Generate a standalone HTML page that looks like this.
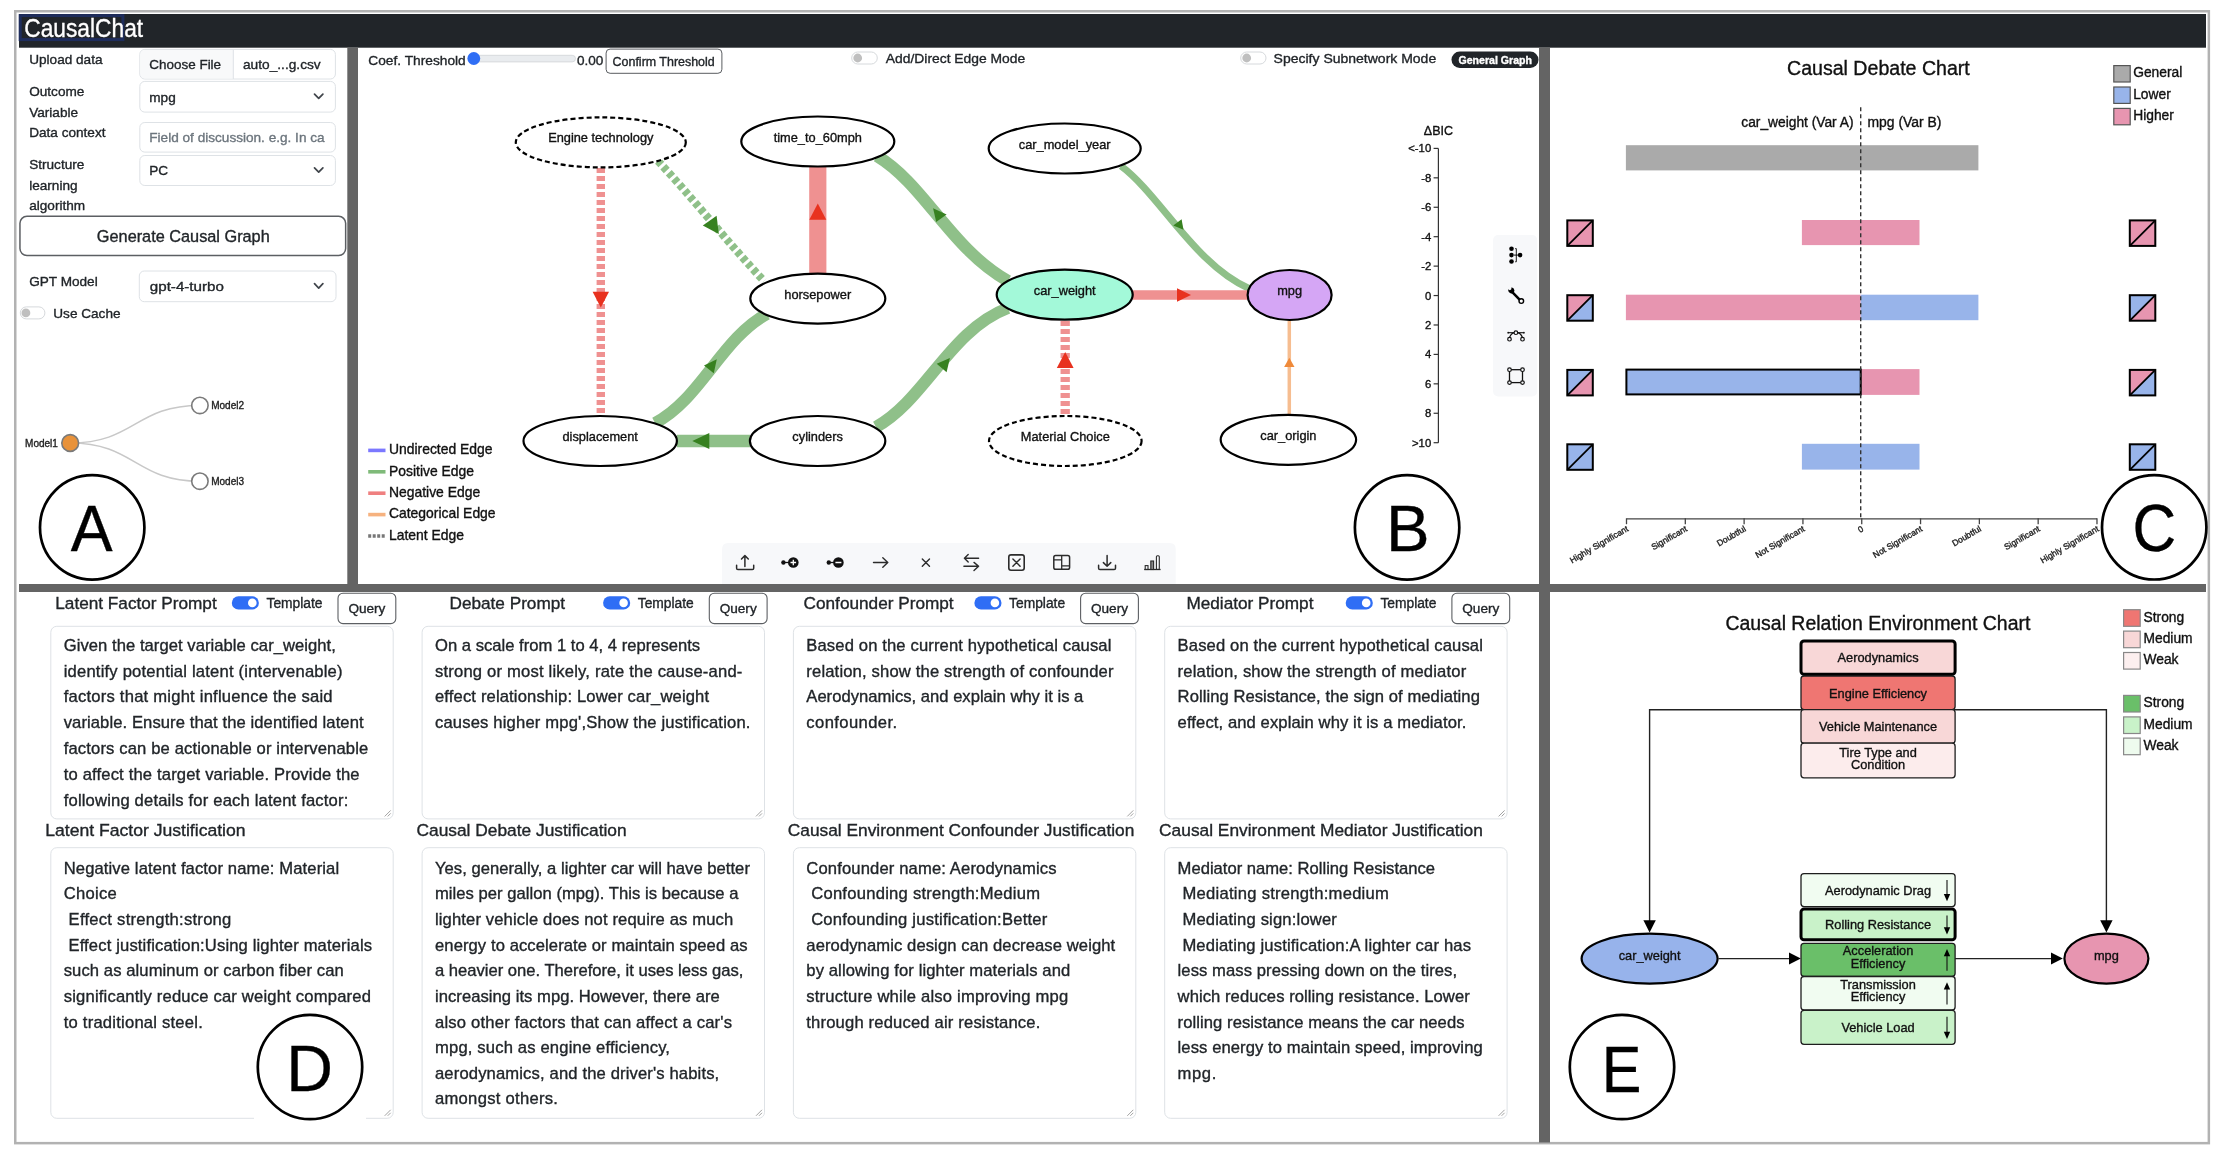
<!DOCTYPE html>
<html><head><meta charset="utf-8"><title>CausalChat</title>
<style>
html,body{margin:0;padding:0;background:#fff;}
body{width:2226px;height:1158px;overflow:hidden;}
svg{display:block;font-family:"Liberation Sans", sans-serif;will-change:transform;}
svg text{stroke-width:0.35px;}
</style></head>
<body>
<svg width="2226" height="1158" viewBox="0 0 2226 1158">
<rect x="15.25" y="11.25" width="2193.60" height="1131.90" fill="#fff" stroke="#b2b2b2" stroke-width="2.5"/>
<rect x="19.00" y="14.00" width="2187.00" height="33.70" fill="#212529"/>
<rect x="20.20" y="15.60" width="102.70" height="24.00" fill="none" stroke="#1e2d5c" stroke-width="3"/>
<text x="24.30" y="37.00" font-size="25" fill="#fff" stroke="#fff" textLength="118.80" lengthAdjust="spacingAndGlyphs">CausalChat</text>
<rect x="347.30" y="47.70" width="10.70" height="536.80" fill="#646464"/>
<rect x="1539.00" y="47.70" width="11.00" height="536.80" fill="#646464"/>
<rect x="19.00" y="584.00" width="2187.00" height="8.00" fill="#646464"/>
<rect x="1539.00" y="592.00" width="11.00" height="550.50" fill="#646464"/>
<text x="29.20" y="63.70" font-size="13.6" fill="#212529" stroke="#212529">Upload data</text>
<text x="29.20" y="96.30" font-size="13.6" fill="#212529" stroke="#212529">Outcome</text>
<text x="29.20" y="116.50" font-size="13.6" fill="#212529" stroke="#212529">Variable</text>
<text x="29.20" y="136.70" font-size="13.6" fill="#212529" stroke="#212529">Data context</text>
<text x="29.20" y="169.40" font-size="13.6" fill="#212529" stroke="#212529">Structure</text>
<text x="29.20" y="189.60" font-size="13.6" fill="#212529" stroke="#212529">learning</text>
<text x="29.20" y="209.80" font-size="13.6" fill="#212529" stroke="#212529">algorithm</text>
<text x="29.20" y="285.60" font-size="13.6" fill="#212529" stroke="#212529">GPT Model</text>
<rect x="139.80" y="49.40" width="195.60" height="29.60" fill="#fff" stroke="#dee2e6" stroke-width="1" rx="5"/>
<path d="M144.80 49.9 H233.3 V78.5 H144.80 A5 5 0 0 1 140.30 73.5 V54.9 A5 5 0 0 1 144.80 49.9 Z" fill="#f8f9fa"/>
<line x1="233.30" y1="49.40" x2="233.30" y2="79.00" stroke="#dee2e6" stroke-width="1" />
<text x="149.30" y="69.10" font-size="13.6" fill="#212529" stroke="#212529" textLength="71.80" lengthAdjust="spacingAndGlyphs">Choose File</text>
<text x="243.00" y="69.10" font-size="13.6" fill="#212529" stroke="#212529" textLength="77.70" lengthAdjust="spacingAndGlyphs">auto_...g.csv</text>
<rect x="139.80" y="81.40" width="195.60" height="30.70" fill="#fff" stroke="#dee2e6" stroke-width="1" rx="5"/>
<text x="149.30" y="101.55" font-size="13.6" fill="#212529" stroke="#212529">mpg</text>
<path d="M314.50 94.05 L318.70 98.45 L322.90 94.05" fill="none" stroke="#40454b" stroke-width="1.7" stroke-linecap="round" stroke-linejoin="round"/>
<rect x="139.80" y="122.50" width="195.60" height="29.60" fill="#fff" stroke="#dee2e6" stroke-width="1" rx="5"/>
<text x="149.30" y="142.10" font-size="13.6" fill="#6c757d" stroke="#6c757d">Field of discussion. e.g. In ca</text>
<rect x="139.80" y="155.50" width="195.60" height="30.00" fill="#fff" stroke="#dee2e6" stroke-width="1" rx="5"/>
<text x="149.30" y="175.30" font-size="13.6" fill="#212529" stroke="#212529">PC</text>
<path d="M314.50 167.80 L318.70 172.20 L322.90 167.80" fill="none" stroke="#40454b" stroke-width="1.7" stroke-linecap="round" stroke-linejoin="round"/>
<rect x="19.95" y="216.35" width="325.70" height="39.20" fill="#fff" stroke="#5c5f63" stroke-width="1.5" rx="7"/>
<text x="183.30" y="241.90" font-size="16.3" fill="#212529" stroke="#212529" text-anchor="middle">Generate Causal Graph</text>
<rect x="139.30" y="271.00" width="196.70" height="30.70" fill="#fff" stroke="#dee2e6" stroke-width="1" rx="5"/>
<text x="149.80" y="290.80" font-size="13.6" fill="#212529" stroke="#212529" textLength="74.10" lengthAdjust="spacingAndGlyphs">gpt-4-turbo</text>
<path d="M314.50 283.70 L318.70 288.10 L322.90 283.70" fill="none" stroke="#40454b" stroke-width="1.7" stroke-linecap="round" stroke-linejoin="round"/>
<rect x="20.30" y="306.90" width="24.60" height="12.00" fill="#fff" stroke="#d6d9dc" stroke-width="1" rx="6"/>
<circle cx="25.90" cy="312.90" r="4.40" fill="#bfbfbf"/>
<text x="53.30" y="317.50" font-size="13.6" fill="#212529" stroke="#212529">Use Cache</text>
<path d="M70.2 443 C135.1 443 135.1 405.4 199.9 405.4" fill="none" stroke="#c8c8c8" stroke-width="1.5"/>
<path d="M70.2 443 C135.1 443 135.1 481.2 199.9 481.2" fill="none" stroke="#c8c8c8" stroke-width="1.5"/>
<circle cx="70.20" cy="443.00" r="8.40" fill="#e8923a" stroke="#7a7a7a" stroke-width="1.6"/>
<circle cx="199.90" cy="405.40" r="8.20" fill="#fff" stroke="#7a7a7a" stroke-width="1.6"/>
<circle cx="199.90" cy="481.20" r="8.20" fill="#fff" stroke="#7a7a7a" stroke-width="1.6"/>
<text x="57.90" y="446.90" font-size="10" fill="#222" stroke="#222" text-anchor="end">Model1</text>
<text x="211.20" y="408.80" font-size="10" fill="#222" stroke="#222">Model2</text>
<text x="211.20" y="484.60" font-size="10" fill="#222" stroke="#222">Model3</text>
<circle cx="92.20" cy="527.40" r="52.20" fill="#fff" stroke="#000" stroke-width="2.7"/>
<text x="0" y="0" font-size="65.41" fill="#000" stroke="#000" transform="translate(70.87 551.40) scale(0.959 1)">A</text>
<text x="368.30" y="64.80" font-size="13.7" fill="#212529" stroke="#212529" textLength="97.40" lengthAdjust="spacingAndGlyphs">Coef. Threshold</text>
<rect x="473.50" y="55.30" width="102.00" height="6.60" fill="#e9ecef" stroke="#d0d3d6" stroke-width="0.8" rx="3.3"/>
<circle cx="473.80" cy="58.50" r="6.40" fill="#2f6ef5"/>
<text x="576.90" y="64.80" font-size="13.7" fill="#212529" stroke="#212529" textLength="26.40" lengthAdjust="spacingAndGlyphs">0.00</text>
<rect x="606.10" y="49.10" width="115.80" height="24.20" fill="#fff" stroke="#595c60" stroke-width="1" rx="4"/>
<text x="612.60" y="66.40" font-size="12.4" fill="#212529" stroke="#212529" textLength="102.10" lengthAdjust="spacingAndGlyphs">Confirm Threshold</text>
<rect x="851.70" y="52.00" width="25.60" height="12.00" fill="#fff" stroke="#d6d9dc" stroke-width="1" rx="6.0"/>
<circle cx="857.70" cy="58.00" r="4.40" fill="#bfbfbf"/>
<text x="885.80" y="63.30" font-size="13.7" fill="#212529" stroke="#212529" textLength="139.40" lengthAdjust="spacingAndGlyphs">Add/Direct Edge Mode</text>
<rect x="1240.70" y="52.00" width="25.30" height="12.00" fill="#fff" stroke="#d6d9dc" stroke-width="1" rx="6.0"/>
<circle cx="1246.70" cy="58.00" r="4.40" fill="#bfbfbf"/>
<text x="1273.60" y="63.40" font-size="13.7" fill="#212529" stroke="#212529" textLength="162.60" lengthAdjust="spacingAndGlyphs">Specify Subnetwork Mode</text>
<rect x="1451.50" y="51.50" width="87.00" height="16.50" fill="#212529" rx="8.25"/>
<text x="1458.50" y="63.60" font-size="10.6" fill="#fff" stroke="#fff" font-weight="bold" textLength="73.50" lengthAdjust="spacingAndGlyphs">General Graph</text>
<line x1="600.80" y1="168.00" x2="600.80" y2="415.00" stroke="#ef9191" stroke-width="8.4" stroke-dasharray="5 3"/>
<polygon points="600.80,307.60 592.60,291.70 609.00,291.70" fill="#e8321f"/>
<path d="M658 161 C690 195 730 245 764 281" fill="none" stroke="#8fc089" stroke-width="8" stroke-dasharray="5 3"/>
<polygon points="716.60,215.70 702.80,225.60 718.80,234.00" fill="#378120"/>
<line x1="817.80" y1="167.00" x2="817.80" y2="273.00" stroke="#ef9191" stroke-width="17.2" />
<polygon points="817.80,203.40 826.30,219.80 809.30,219.80" fill="#e8321f"/>
<path d="M877 156 C925 185 950 248 1008 281" fill="none" stroke="#8fc089" stroke-width="12"/>
<polygon points="933.10,208.30 946.60,214.50 936.20,222.00" fill="#378120"/>
<path d="M1121 166 C1160 195 1195 265 1250 289" fill="none" stroke="#8fc089" stroke-width="7"/>
<polygon points="1181.60,219.20 1173.30,225.60 1183.50,229.70" fill="#378120"/>
<line x1="1133.00" y1="295.00" x2="1247.00" y2="295.00" stroke="#ef9191" stroke-width="9.5" />
<polygon points="1191.00,295.00 1177.00,301.80 1177.00,288.20" fill="#e8321f"/>
<path d="M767 314 C722 338 700 400 655 423" fill="none" stroke="#8fc089" stroke-width="12"/>
<polygon points="704.00,365.60 716.80,359.30 713.80,373.20" fill="#378120"/>
<line x1="677.00" y1="441.00" x2="750.00" y2="441.00" stroke="#8fc089" stroke-width="12.6" />
<polygon points="692.30,441.00 709.30,433.00 709.30,449.00" fill="#378120"/>
<path d="M876 427 C925 400 950 330 1008 308" fill="none" stroke="#8fc089" stroke-width="12"/>
<polygon points="936.70,363.80 949.90,358.10 946.60,372.30" fill="#378120"/>
<line x1="1065.20" y1="321.00" x2="1065.20" y2="415.00" stroke="#ef9191" stroke-width="9.3" stroke-dasharray="5 3"/>
<polygon points="1065.20,352.00 1073.60,368.00 1056.80,368.00" fill="#e8321f"/>
<line x1="1289.30" y1="321.00" x2="1289.30" y2="414.00" stroke="#f6bd90" stroke-width="3.5" />
<polygon points="1289.30,357.70 1294.50,367.00 1284.10,367.00" fill="#ef8a3a"/>
<ellipse cx="600.80" cy="142.40" rx="85.00" ry="25.00" fill="#fff" stroke="#000" stroke-width="2.2" stroke-dasharray="5 3"/>
<text x="600.80" y="142.40" font-size="12.8" fill="#111" stroke="#111" text-anchor="middle">Engine technology</text>
<ellipse cx="817.80" cy="141.50" rx="76.50" ry="25.00" fill="#fff" stroke="#000" stroke-width="2.2" />
<text x="817.80" y="141.50" font-size="12.8" fill="#111" stroke="#111" text-anchor="middle">time_to_60mph</text>
<ellipse cx="1064.70" cy="148.50" rx="76.00" ry="25.00" fill="#fff" stroke="#000" stroke-width="2.2" />
<text x="1064.70" y="148.50" font-size="12.8" fill="#111" stroke="#111" text-anchor="middle">car_model_year</text>
<ellipse cx="817.80" cy="298.60" rx="67.50" ry="25.00" fill="#fff" stroke="#000" stroke-width="2.2" />
<text x="817.80" y="298.60" font-size="12.8" fill="#111" stroke="#111" text-anchor="middle">horsepower</text>
<ellipse cx="1064.70" cy="294.70" rx="68.00" ry="25.00" fill="#a3f9d9" stroke="#000" stroke-width="2.2" />
<text x="1064.70" y="294.70" font-size="12.8" fill="#111" stroke="#111" text-anchor="middle">car_weight</text>
<ellipse cx="1289.60" cy="295.00" rx="42.00" ry="25.00" fill="#d5a6f5" stroke="#000" stroke-width="2.2" />
<text x="1289.60" y="295.00" font-size="12.8" fill="#111" stroke="#111" text-anchor="middle">mpg</text>
<ellipse cx="600.20" cy="441.00" rx="76.70" ry="25.00" fill="#fff" stroke="#000" stroke-width="2.2" />
<text x="600.20" y="441.00" font-size="12.8" fill="#111" stroke="#111" text-anchor="middle">displacement</text>
<ellipse cx="817.60" cy="441.00" rx="67.70" ry="25.00" fill="#fff" stroke="#000" stroke-width="2.2" />
<text x="817.60" y="441.00" font-size="12.8" fill="#111" stroke="#111" text-anchor="middle">cylinders</text>
<ellipse cx="1065.30" cy="441.00" rx="76.30" ry="25.00" fill="#fff" stroke="#000" stroke-width="2.2" stroke-dasharray="5 3"/>
<text x="1065.30" y="441.00" font-size="12.8" fill="#111" stroke="#111" text-anchor="middle">Material Choice</text>
<ellipse cx="1288.40" cy="439.80" rx="67.70" ry="25.00" fill="#fff" stroke="#000" stroke-width="2.2" />
<text x="1288.40" y="439.80" font-size="12.8" fill="#111" stroke="#111" text-anchor="middle">car_origin</text>
<line x1="368.20" y1="450.40" x2="385.50" y2="450.40" stroke="#7b78ff" stroke-width="3.6" />
<text x="389.00" y="454.20" font-size="13.9" fill="#111" stroke="#111">Undirected Edge</text>
<line x1="368.20" y1="471.80" x2="385.50" y2="471.80" stroke="#7fba79" stroke-width="3.6" />
<text x="389.00" y="475.60" font-size="13.9" fill="#111" stroke="#111">Positive Edge</text>
<line x1="368.20" y1="493.20" x2="385.50" y2="493.20" stroke="#ef8080" stroke-width="3.6" />
<text x="389.00" y="497.00" font-size="13.9" fill="#111" stroke="#111">Negative Edge</text>
<line x1="368.20" y1="514.60" x2="385.50" y2="514.60" stroke="#f6b27f" stroke-width="3.6" />
<text x="389.00" y="518.40" font-size="13.9" fill="#111" stroke="#111">Categorical Edge</text>
<line x1="368.20" y1="536.00" x2="385.50" y2="536.00" stroke="#777" stroke-width="3.6" stroke-dasharray="3 1.5"/>
<text x="389.00" y="539.80" font-size="13.9" fill="#111" stroke="#111">Latent Edge</text>
<text x="1438.40" y="134.80" font-size="12.5" fill="#111" stroke="#111" text-anchor="middle">ΔBIC</text>
<line x1="1438.40" y1="148.40" x2="1438.40" y2="442.70" stroke="#333" stroke-width="1.2" />
<line x1="1433.60" y1="148.40" x2="1438.40" y2="148.40" stroke="#333" stroke-width="1.2" />
<text x="1431.20" y="152.40" font-size="11.3" fill="#111" stroke="#111" text-anchor="end">&lt;-10</text>
<line x1="1433.60" y1="177.83" x2="1438.40" y2="177.83" stroke="#333" stroke-width="1.2" />
<text x="1431.20" y="181.83" font-size="11.3" fill="#111" stroke="#111" text-anchor="end">-8</text>
<line x1="1433.60" y1="207.26" x2="1438.40" y2="207.26" stroke="#333" stroke-width="1.2" />
<text x="1431.20" y="211.26" font-size="11.3" fill="#111" stroke="#111" text-anchor="end">-6</text>
<line x1="1433.60" y1="236.69" x2="1438.40" y2="236.69" stroke="#333" stroke-width="1.2" />
<text x="1431.20" y="240.69" font-size="11.3" fill="#111" stroke="#111" text-anchor="end">-4</text>
<line x1="1433.60" y1="266.12" x2="1438.40" y2="266.12" stroke="#333" stroke-width="1.2" />
<text x="1431.20" y="270.12" font-size="11.3" fill="#111" stroke="#111" text-anchor="end">-2</text>
<line x1="1433.60" y1="295.55" x2="1438.40" y2="295.55" stroke="#333" stroke-width="1.2" />
<text x="1431.20" y="299.55" font-size="11.3" fill="#111" stroke="#111" text-anchor="end">0</text>
<line x1="1433.60" y1="324.98" x2="1438.40" y2="324.98" stroke="#333" stroke-width="1.2" />
<text x="1431.20" y="328.98" font-size="11.3" fill="#111" stroke="#111" text-anchor="end">2</text>
<line x1="1433.60" y1="354.41" x2="1438.40" y2="354.41" stroke="#333" stroke-width="1.2" />
<text x="1431.20" y="358.41" font-size="11.3" fill="#111" stroke="#111" text-anchor="end">4</text>
<line x1="1433.60" y1="383.84" x2="1438.40" y2="383.84" stroke="#333" stroke-width="1.2" />
<text x="1431.20" y="387.84" font-size="11.3" fill="#111" stroke="#111" text-anchor="end">6</text>
<line x1="1433.60" y1="413.27" x2="1438.40" y2="413.27" stroke="#333" stroke-width="1.2" />
<text x="1431.20" y="417.27" font-size="11.3" fill="#111" stroke="#111" text-anchor="end">8</text>
<line x1="1433.60" y1="442.70" x2="1438.40" y2="442.70" stroke="#333" stroke-width="1.2" />
<text x="1431.20" y="446.70" font-size="11.3" fill="#111" stroke="#111" text-anchor="end">&gt;10</text>
<rect x="1493.10" y="235.10" width="44.10" height="161.40" fill="#f7f8fa" rx="5"/>
<path d="M722.1 584 V549.1 Q722.1 543.1 728.1 543.1 H1169.7 Q1175.7 543.1 1175.7 549.1 V584 Z" fill="#f7f8fa"/>
<path d="M736.6 565.3 V568.3 Q736.6 569.6 737.9 569.6 H752.4 Q753.7 569.6 753.7 568.3 V565.3" fill="none" stroke="#2b2b2b" stroke-width="1.5" stroke-linecap="round" stroke-linejoin="round"/>
<path d="M744.9 566.6 V555.6 M741.5 559.0 L744.9 555.6 L748.3 559.0" fill="none" stroke="#2b2b2b" stroke-width="1.5" stroke-linecap="round" stroke-linejoin="round"/>
<circle cx="783.40" cy="562.50" r="2.20" fill="#111"/>
<line x1="783.40" y1="562.50" x2="789.00" y2="562.50" stroke="#111" stroke-width="1.3" />
<circle cx="793.30" cy="562.50" r="5.30" fill="#111"/>
<path d="M790.5 562.5 H796.1 M793.3 559.7 V565.3" fill="none" stroke="#fff" stroke-width="1.3"/>
<circle cx="828.80" cy="562.50" r="2.20" fill="#111"/>
<line x1="828.80" y1="562.50" x2="834.00" y2="562.50" stroke="#111" stroke-width="1.3" />
<circle cx="838.40" cy="562.50" r="5.30" fill="#111"/>
<path d="M835.4 562.5 H841.4" fill="none" stroke="#fff" stroke-width="1.5"/>
<path d="M873.5 562.5 H887.8 M882.8 557.8 L887.8 562.5 L882.8 567.3" fill="none" stroke="#2b2b2b" stroke-width="1.4" stroke-linecap="round" stroke-linejoin="round"/>
<path d="M922.3 559.1 L929.5 566.3 M929.5 559.1 L922.3 566.3" fill="none" stroke="#2b2b2b" stroke-width="1.4" stroke-linecap="round" stroke-linejoin="round"/>
<path d="M964.4 558.2 H978.6 M968.2 554.5 L964.4 558.2 L968.2 561.9" fill="none" stroke="#2b2b2b" stroke-width="1.4" stroke-linecap="round" stroke-linejoin="round"/>
<path d="M963.9 566.3 H978.6 M974.0 562.4 L978.6 566.3 L974.0 570.5" fill="none" stroke="#2b2b2b" stroke-width="1.4" stroke-linecap="round" stroke-linejoin="round"/>
<rect x="1008.80" y="554.90" width="15.40" height="15.40" fill="none" stroke="#2b2b2b" stroke-width="1.6" rx="2.2"/>
<path d="M1012.9 559.0 L1020.1 566.2 M1020.1 559.0 L1012.9 566.2" fill="none" stroke="#2b2b2b" stroke-width="1.4" stroke-linecap="round" stroke-linejoin="round"/>
<rect x="1053.80" y="555.60" width="15.80" height="13.70" fill="none" stroke="#2b2b2b" stroke-width="1.5" rx="1.8"/>
<path d="M1061.7 555.6 V569.3 M1053.8 559.8 H1061.7 M1061.7 565.8 H1069.6" fill="none" stroke="#2b2b2b" stroke-width="1.3"/>
<path d="M1098.6 565.3 V568.3 Q1098.6 569.6 1099.9 569.6 H1114.2 Q1115.5 569.6 1115.5 568.3 V565.3" fill="none" stroke="#2b2b2b" stroke-width="1.5" stroke-linecap="round" stroke-linejoin="round"/>
<path d="M1107.1 555.4 V566.2 M1103.4 562.6 L1107.1 566.2 L1110.8 562.6" fill="none" stroke="#2b2b2b" stroke-width="1.5" stroke-linecap="round" stroke-linejoin="round"/>
<line x1="1144.20" y1="569.50" x2="1160.60" y2="569.50" stroke="#2b2b2b" stroke-width="1.3" />
<rect x="1145.20" y="565.60" width="2.80" height="3.90" fill="none" stroke="#2b2b2b" stroke-width="1.1"/>
<rect x="1150.80" y="561.00" width="2.80" height="8.50" fill="#888" stroke="#2b2b2b" stroke-width="1.1"/>
<rect x="1156.40" y="555.70" width="2.90" height="13.80" fill="none" stroke="#2b2b2b" stroke-width="1.1" rx="1"/>
<circle cx="1511.50" cy="248.80" r="2.30" fill="#000"/>
<circle cx="1511.50" cy="255.10" r="2.30" fill="#000"/>
<circle cx="1511.50" cy="261.50" r="2.30" fill="#000"/>
<circle cx="1520.10" cy="255.10" r="2.30" fill="#000"/>
<path d="M1515.2 248.6 H1516.3 V261.8 H1515.2 M1514 255.1 H1519" fill="none" stroke="#000" stroke-width="0.9"/>
<path d="M1512.3 292.2 L1519.6 299.6" fill="none" stroke="#000" stroke-width="2.6" stroke-linecap="round"/>
<circle cx="1521.30" cy="301.10" r="2.30" fill="#fff" stroke="#000" stroke-width="1.4"/>
<path d="M1508.2 289.2 Q1508 292.5 1511 293.4 Q1514 293.8 1514.5 290.8 Q1514.4 288 1511.6 287.3 L1511.2 289.6 L1509.8 290.2 Z" fill="#000"/>
<path d="M1509.5 337.4 Q1511.5 333.2 1514.2 332.7 M1517.6 332.7 Q1520.5 333.2 1522.5 337.4" fill="none" stroke="#111" stroke-width="1.2"/>
<line x1="1508.30" y1="332.70" x2="1513.90" y2="332.70" stroke="#111" stroke-width="1.1" />
<line x1="1517.90" y1="332.70" x2="1523.80" y2="332.70" stroke="#111" stroke-width="1.1" />
<circle cx="1508.20" cy="332.70" r="0.90" fill="#111"/>
<circle cx="1523.90" cy="332.70" r="0.90" fill="#111"/>
<circle cx="1515.90" cy="332.70" r="1.80" fill="#f7f8fa" stroke="#111" stroke-width="1.2"/>
<circle cx="1509.50" cy="339.20" r="1.80" fill="#f7f8fa" stroke="#111" stroke-width="1.2"/>
<circle cx="1522.50" cy="339.20" r="1.80" fill="#f7f8fa" stroke="#111" stroke-width="1.2"/>
<rect x="1509.50" y="369.70" width="13.00" height="12.90" fill="none" stroke="#111" stroke-width="1.3"/>
<circle cx="1509.50" cy="369.70" r="1.80" fill="#f7f8fa" stroke="#111" stroke-width="1.2"/>
<circle cx="1522.50" cy="369.70" r="1.80" fill="#f7f8fa" stroke="#111" stroke-width="1.2"/>
<circle cx="1509.50" cy="382.60" r="1.80" fill="#f7f8fa" stroke="#111" stroke-width="1.2"/>
<circle cx="1522.50" cy="382.60" r="1.80" fill="#f7f8fa" stroke="#111" stroke-width="1.2"/>
<circle cx="1407.10" cy="527.40" r="52.20" fill="#fff" stroke="#000" stroke-width="2.7"/>
<text x="0" y="0" font-size="65.55" fill="#000" stroke="#000" transform="translate(1385.94 551.40) scale(0.998 1)">B</text>
<text x="1878.40" y="74.60" font-size="19.5" fill="#111" stroke="#111" text-anchor="middle" textLength="182.80" lengthAdjust="spacingAndGlyphs">Causal Debate Chart</text>
<rect x="2113.80" y="65.60" width="16.40" height="16.40" fill="#aaaaaa" stroke="#555" stroke-width="1.2"/>
<text x="2133.20" y="77.10" font-size="13.8" fill="#111" stroke="#111">General</text>
<rect x="2113.80" y="87.00" width="16.40" height="16.40" fill="#98b4ea" stroke="#555" stroke-width="1.2"/>
<text x="2133.20" y="98.50" font-size="13.8" fill="#111" stroke="#111">Lower</text>
<rect x="2113.80" y="108.40" width="16.40" height="16.40" fill="#e795b0" stroke="#555" stroke-width="1.2"/>
<text x="2133.20" y="119.90" font-size="13.8" fill="#111" stroke="#111">Higher</text>
<text x="1853.50" y="126.50" font-size="13.8" fill="#111" stroke="#111" text-anchor="end" textLength="112.20" lengthAdjust="spacingAndGlyphs">car_weight (Var A)</text>
<text x="1867.50" y="126.50" font-size="13.8" fill="#111" stroke="#111" textLength="74.00" lengthAdjust="spacingAndGlyphs">mpg (Var B)</text>
<rect x="1625.90" y="145.20" width="352.50" height="25.20" fill="#aaaaaa"/>
<rect x="1801.90" y="220.00" width="117.60" height="25.10" fill="#e795b0"/>
<rect x="1625.90" y="294.70" width="234.80" height="25.50" fill="#e795b0"/>
<rect x="1860.70" y="294.70" width="117.70" height="25.50" fill="#98b4ea"/>
<rect x="1860.70" y="369.10" width="58.80" height="25.80" fill="#e795b0"/>
<rect x="1626.40" y="369.60" width="234.30" height="24.80" fill="#98b4ea" stroke="#000" stroke-width="2"/>
<rect x="1801.90" y="443.80" width="117.60" height="25.80" fill="#98b4ea"/>
<line x1="1860.70" y1="107.30" x2="1860.70" y2="518.50" stroke="#333" stroke-width="1.4" stroke-dasharray="4 3"/>
<path d="M1567.30 220.40 H1592.80 L1567.30 245.90 Z" fill="#e795b0"/>
<path d="M1592.80 220.40 V245.90 H1567.30 Z" fill="#e795b0"/>
<rect x="1567.30" y="220.40" width="25.50" height="25.50" fill="none" stroke="#000" stroke-width="2"/>
<line x1="1567.30" y1="245.90" x2="1592.80" y2="220.40" stroke="#000" stroke-width="1.8" />
<path d="M2129.80 220.40 H2155.30 L2129.80 245.90 Z" fill="#e795b0"/>
<path d="M2155.30 220.40 V245.90 H2129.80 Z" fill="#e795b0"/>
<rect x="2129.80" y="220.40" width="25.50" height="25.50" fill="none" stroke="#000" stroke-width="2"/>
<line x1="2129.80" y1="245.90" x2="2155.30" y2="220.40" stroke="#000" stroke-width="1.8" />
<path d="M1567.30 295.20 H1592.80 L1567.30 320.70 Z" fill="#e795b0"/>
<path d="M1592.80 295.20 V320.70 H1567.30 Z" fill="#98b4ea"/>
<rect x="1567.30" y="295.20" width="25.50" height="25.50" fill="none" stroke="#000" stroke-width="2"/>
<line x1="1567.30" y1="320.70" x2="1592.80" y2="295.20" stroke="#000" stroke-width="1.8" />
<path d="M2129.80 295.20 H2155.30 L2129.80 320.70 Z" fill="#98b4ea"/>
<path d="M2155.30 295.20 V320.70 H2129.80 Z" fill="#e795b0"/>
<rect x="2129.80" y="295.20" width="25.50" height="25.50" fill="none" stroke="#000" stroke-width="2"/>
<line x1="2129.80" y1="320.70" x2="2155.30" y2="295.20" stroke="#000" stroke-width="1.8" />
<path d="M1567.30 369.90 H1592.80 L1567.30 395.40 Z" fill="#98b4ea"/>
<path d="M1592.80 369.90 V395.40 H1567.30 Z" fill="#e795b0"/>
<rect x="1567.30" y="369.90" width="25.50" height="25.50" fill="none" stroke="#000" stroke-width="2"/>
<line x1="1567.30" y1="395.40" x2="1592.80" y2="369.90" stroke="#000" stroke-width="1.8" />
<path d="M2129.80 369.90 H2155.30 L2129.80 395.40 Z" fill="#e795b0"/>
<path d="M2155.30 369.90 V395.40 H2129.80 Z" fill="#98b4ea"/>
<rect x="2129.80" y="369.90" width="25.50" height="25.50" fill="none" stroke="#000" stroke-width="2"/>
<line x1="2129.80" y1="395.40" x2="2155.30" y2="369.90" stroke="#000" stroke-width="1.8" />
<path d="M1567.30 444.30 H1592.80 L1567.30 469.80 Z" fill="#98b4ea"/>
<path d="M1592.80 444.30 V469.80 H1567.30 Z" fill="#98b4ea"/>
<rect x="1567.30" y="444.30" width="25.50" height="25.50" fill="none" stroke="#000" stroke-width="2"/>
<line x1="1567.30" y1="469.80" x2="1592.80" y2="444.30" stroke="#000" stroke-width="1.8" />
<path d="M2129.80 444.30 H2155.30 L2129.80 469.80 Z" fill="#98b4ea"/>
<path d="M2155.30 444.30 V469.80 H2129.80 Z" fill="#98b4ea"/>
<rect x="2129.80" y="444.30" width="25.50" height="25.50" fill="none" stroke="#000" stroke-width="2"/>
<line x1="2129.80" y1="469.80" x2="2155.30" y2="444.30" stroke="#000" stroke-width="1.8" />
<line x1="1626.50" y1="518.90" x2="2097.00" y2="518.90" stroke="#444" stroke-width="1.3" />
<line x1="1626.50" y1="518.30" x2="1626.50" y2="524.20" stroke="#444" stroke-width="1.3" />
<text x="1629.00" y="530.50" font-size="8.6" fill="#222" stroke="#222" text-anchor="end" transform="rotate(-30 1629.00 530.50)">Highly Significant</text>
<line x1="1685.31" y1="518.30" x2="1685.31" y2="524.20" stroke="#444" stroke-width="1.3" />
<text x="1687.81" y="530.50" font-size="8.6" fill="#222" stroke="#222" text-anchor="end" transform="rotate(-30 1687.81 530.50)">Significant</text>
<line x1="1744.12" y1="518.30" x2="1744.12" y2="524.20" stroke="#444" stroke-width="1.3" />
<text x="1746.62" y="530.50" font-size="8.6" fill="#222" stroke="#222" text-anchor="end" transform="rotate(-30 1746.62 530.50)">Doubtful</text>
<line x1="1802.93" y1="518.30" x2="1802.93" y2="524.20" stroke="#444" stroke-width="1.3" />
<text x="1805.43" y="530.50" font-size="8.6" fill="#222" stroke="#222" text-anchor="end" transform="rotate(-30 1805.43 530.50)">Not Significant</text>
<line x1="1861.74" y1="518.30" x2="1861.74" y2="524.20" stroke="#444" stroke-width="1.3" />
<text x="1864.24" y="530.50" font-size="8.6" fill="#222" stroke="#222" text-anchor="end" transform="rotate(-30 1864.24 530.50)">0</text>
<line x1="1920.55" y1="518.30" x2="1920.55" y2="524.20" stroke="#444" stroke-width="1.3" />
<text x="1923.05" y="530.50" font-size="8.6" fill="#222" stroke="#222" text-anchor="end" transform="rotate(-30 1923.05 530.50)">Not Significant</text>
<line x1="1979.36" y1="518.30" x2="1979.36" y2="524.20" stroke="#444" stroke-width="1.3" />
<text x="1981.86" y="530.50" font-size="8.6" fill="#222" stroke="#222" text-anchor="end" transform="rotate(-30 1981.86 530.50)">Doubtful</text>
<line x1="2038.17" y1="518.30" x2="2038.17" y2="524.20" stroke="#444" stroke-width="1.3" />
<text x="2040.67" y="530.50" font-size="8.6" fill="#222" stroke="#222" text-anchor="end" transform="rotate(-30 2040.67 530.50)">Significant</text>
<line x1="2096.98" y1="518.30" x2="2096.98" y2="524.20" stroke="#444" stroke-width="1.3" />
<text x="2099.48" y="530.50" font-size="8.6" fill="#222" stroke="#222" text-anchor="end" transform="rotate(-30 2099.48 530.50)">Highly Significant</text>
<circle cx="2154.20" cy="527.30" r="52.20" fill="#fff" stroke="#000" stroke-width="2.7"/>
<text x="0" y="0" font-size="65.82" fill="#000" stroke="#000" transform="translate(2132.42 551.34) scale(0.917 1)">C</text>
<clipPath id="ta1clip"><rect x="50" y="626" width="344" height="192.5"/></clipPath>
<text x="136.00" y="608.50" font-size="17.2" fill="#212529" stroke="#212529" text-anchor="middle">Latent Factor Prompt</text>
<rect x="231.80" y="596.30" width="27.10" height="13.20" fill="#2f6ef5" rx="6.600000000000023"/>
<circle cx="252.30" cy="602.90" r="4.30" fill="#fff"/>
<text x="266.50" y="608.00" font-size="13.8" fill="#212529" stroke="#212529">Template</text>
<rect x="338.00" y="593.20" width="57.80" height="30.40" fill="#fff" stroke="#5c5f63" stroke-width="1.1" rx="5"/>
<text x="366.90" y="613.40" font-size="13.6" fill="#212529" stroke="#212529" text-anchor="middle">Query</text>
<rect x="50.80" y="626.30" width="342.40" height="192.60" fill="#fff" stroke="#dee2e6" stroke-width="1" rx="6"/>
<path d="M384.70 816.40 L390.70 810.40 M387.70 816.40 L390.70 813.40" fill="none" stroke="#8a8a8a" stroke-width="0.8"/>
<text x="63.70" y="650.75" font-size="16.6" fill="#212529" stroke="#212529" xml:space="preserve" letter-spacing="0.14" textLength="272.34" lengthAdjust="spacing" clip-path="url(#ta1clip)">Given the target variable car_weight,</text>
<text x="63.70" y="676.58" font-size="16.6" fill="#212529" stroke="#212529" xml:space="preserve" letter-spacing="0.14" textLength="279.00" lengthAdjust="spacing" clip-path="url(#ta1clip)">identify potential latent (intervenable)</text>
<text x="63.70" y="702.41" font-size="16.6" fill="#212529" stroke="#212529" xml:space="preserve" letter-spacing="0.14" textLength="269.02" lengthAdjust="spacing" clip-path="url(#ta1clip)">factors that might influence the said</text>
<text x="63.70" y="728.24" font-size="16.6" fill="#212529" stroke="#212529" xml:space="preserve" letter-spacing="0.14" textLength="300.04" lengthAdjust="spacing" clip-path="url(#ta1clip)">variable. Ensure that the identified latent</text>
<text x="63.70" y="754.07" font-size="16.6" fill="#212529" stroke="#212529" xml:space="preserve" letter-spacing="0.14" textLength="304.73" lengthAdjust="spacing" clip-path="url(#ta1clip)">factors can be actionable or intervenable</text>
<text x="63.70" y="779.90" font-size="16.6" fill="#212529" stroke="#212529" xml:space="preserve" letter-spacing="0.14" textLength="296.02" lengthAdjust="spacing" clip-path="url(#ta1clip)">to affect the target variable. Provide the</text>
<text x="63.70" y="805.73" font-size="16.6" fill="#212529" stroke="#212529" xml:space="preserve" letter-spacing="0.14" textLength="284.79" lengthAdjust="spacing" clip-path="url(#ta1clip)">following details for each latent factor:</text>
<text x="63.70" y="831.56" font-size="16.6" fill="#212529" stroke="#212529" xml:space="preserve" letter-spacing="0.14" clip-path="url(#ta1clip)">(1) Name of the latent factor,</text>
<text x="45.20" y="835.60" font-size="17.2" fill="#212529" stroke="#212529" textLength="200.40" lengthAdjust="spacingAndGlyphs">Latent Factor Justification</text>
<rect x="50.80" y="847.70" width="342.40" height="270.60" fill="#fff" stroke="#dee2e6" stroke-width="1" rx="6"/>
<path d="M384.70 1115.80 L390.70 1109.80 M387.70 1115.80 L390.70 1112.80" fill="none" stroke="#8a8a8a" stroke-width="0.8"/>
<text x="63.70" y="873.60" font-size="16.6" fill="#212529" stroke="#212529" xml:space="preserve" letter-spacing="0.14" textLength="275.54" lengthAdjust="spacing">Negative latent factor name: Material</text>
<text x="63.70" y="899.25" font-size="16.6" fill="#212529" stroke="#212529" xml:space="preserve" letter-spacing="0.14" textLength="53.20" lengthAdjust="spacing">Choice</text>
<text x="63.70" y="924.90" font-size="16.6" fill="#212529" stroke="#212529" xml:space="preserve" letter-spacing="0.14" textLength="167.77" lengthAdjust="spacing"> Effect strength:strong</text>
<text x="63.70" y="950.55" font-size="16.6" fill="#212529" stroke="#212529" xml:space="preserve" letter-spacing="0.14" textLength="308.50" lengthAdjust="spacing"> Effect justification:Using lighter materials</text>
<text x="63.70" y="976.20" font-size="16.6" fill="#212529" stroke="#212529" xml:space="preserve" letter-spacing="0.14" textLength="280.15" lengthAdjust="spacing">such as aluminum or carbon fiber can</text>
<text x="63.70" y="1001.85" font-size="16.6" fill="#212529" stroke="#212529" xml:space="preserve" letter-spacing="0.14" textLength="307.36" lengthAdjust="spacing">significantly reduce car weight compared</text>
<text x="63.70" y="1027.50" font-size="16.6" fill="#212529" stroke="#212529" xml:space="preserve" letter-spacing="0.14" textLength="139.22" lengthAdjust="spacing">to traditional steel.</text>
<text x="507.30" y="608.50" font-size="17.2" fill="#212529" stroke="#212529" text-anchor="middle">Debate Prompt</text>
<rect x="603.10" y="596.30" width="27.10" height="13.20" fill="#2f6ef5" rx="6.600000000000023"/>
<circle cx="623.60" cy="602.90" r="4.30" fill="#fff"/>
<text x="637.80" y="608.00" font-size="13.8" fill="#212529" stroke="#212529">Template</text>
<rect x="709.30" y="593.20" width="57.80" height="30.40" fill="#fff" stroke="#5c5f63" stroke-width="1.1" rx="5"/>
<text x="738.20" y="613.40" font-size="13.6" fill="#212529" stroke="#212529" text-anchor="middle">Query</text>
<rect x="422.10" y="626.30" width="342.40" height="192.60" fill="#fff" stroke="#dee2e6" stroke-width="1" rx="6"/>
<path d="M756.00 816.40 L762.00 810.40 M759.00 816.40 L762.00 813.40" fill="none" stroke="#8a8a8a" stroke-width="0.8"/>
<text x="435.00" y="650.75" font-size="16.6" fill="#212529" stroke="#212529" xml:space="preserve" letter-spacing="0.14" textLength="265.25" lengthAdjust="spacing">On a scale from 1 to 4, 4 represents</text>
<text x="435.00" y="676.58" font-size="16.6" fill="#212529" stroke="#212529" xml:space="preserve" letter-spacing="0.14" textLength="307.51" lengthAdjust="spacing">strong or most likely, rate the cause-and-</text>
<text x="435.00" y="702.41" font-size="16.6" fill="#212529" stroke="#212529" xml:space="preserve" letter-spacing="0.14" textLength="274.22" lengthAdjust="spacing">effect relationship: Lower car_weight</text>
<text x="435.00" y="728.24" font-size="16.6" fill="#212529" stroke="#212529" xml:space="preserve" letter-spacing="0.14" textLength="315.56" lengthAdjust="spacing">causes higher mpg',Show the justification.</text>
<text x="416.50" y="835.60" font-size="17.2" fill="#212529" stroke="#212529" textLength="210.10" lengthAdjust="spacingAndGlyphs">Causal Debate Justification</text>
<rect x="422.10" y="847.70" width="342.40" height="270.60" fill="#fff" stroke="#dee2e6" stroke-width="1" rx="6"/>
<path d="M756.00 1115.80 L762.00 1109.80 M759.00 1115.80 L762.00 1112.80" fill="none" stroke="#8a8a8a" stroke-width="0.8"/>
<text x="435.00" y="873.60" font-size="16.6" fill="#212529" stroke="#212529" xml:space="preserve" letter-spacing="0.14" textLength="315.05" lengthAdjust="spacing">Yes, generally, a lighter car will have better</text>
<text x="435.00" y="899.25" font-size="16.6" fill="#212529" stroke="#212529" xml:space="preserve" letter-spacing="0.14" textLength="303.65" lengthAdjust="spacing">miles per gallon (mpg). This is because a</text>
<text x="435.00" y="924.90" font-size="16.6" fill="#212529" stroke="#212529" xml:space="preserve" letter-spacing="0.14" textLength="298.32" lengthAdjust="spacing">lighter vehicle does not require as much</text>
<text x="435.00" y="950.55" font-size="16.6" fill="#212529" stroke="#212529" xml:space="preserve" letter-spacing="0.14" textLength="312.65" lengthAdjust="spacing">energy to accelerate or maintain speed as</text>
<text x="435.00" y="976.20" font-size="16.6" fill="#212529" stroke="#212529" xml:space="preserve" letter-spacing="0.14" textLength="308.62" lengthAdjust="spacing">a heavier one. Therefore, it uses less gas,</text>
<text x="435.00" y="1001.85" font-size="16.6" fill="#212529" stroke="#212529" xml:space="preserve" letter-spacing="0.14" textLength="284.87" lengthAdjust="spacing">increasing its mpg. However, there are</text>
<text x="435.00" y="1027.50" font-size="16.6" fill="#212529" stroke="#212529" xml:space="preserve" letter-spacing="0.14" textLength="297.09" lengthAdjust="spacing">also other factors that can affect a car's</text>
<text x="435.00" y="1053.15" font-size="16.6" fill="#212529" stroke="#212529" xml:space="preserve" letter-spacing="0.14" textLength="235.13" lengthAdjust="spacing">mpg, such as engine efficiency,</text>
<text x="435.00" y="1078.80" font-size="16.6" fill="#212529" stroke="#212529" xml:space="preserve" letter-spacing="0.14" textLength="284.38" lengthAdjust="spacing">aerodynamics, and the driver's habits,</text>
<text x="435.00" y="1104.45" font-size="16.6" fill="#212529" stroke="#212529" xml:space="preserve" letter-spacing="0.14" textLength="123.09" lengthAdjust="spacing">amongst others.</text>
<text x="878.60" y="608.50" font-size="17.2" fill="#212529" stroke="#212529" text-anchor="middle">Confounder Prompt</text>
<rect x="974.40" y="596.30" width="27.10" height="13.20" fill="#2f6ef5" rx="6.600000000000023"/>
<circle cx="994.90" cy="602.90" r="4.30" fill="#fff"/>
<text x="1009.10" y="608.00" font-size="13.8" fill="#212529" stroke="#212529">Template</text>
<rect x="1080.60" y="593.20" width="57.80" height="30.40" fill="#fff" stroke="#5c5f63" stroke-width="1.1" rx="5"/>
<text x="1109.50" y="613.40" font-size="13.6" fill="#212529" stroke="#212529" text-anchor="middle">Query</text>
<rect x="793.40" y="626.30" width="342.40" height="192.60" fill="#fff" stroke="#dee2e6" stroke-width="1" rx="6"/>
<path d="M1127.30 816.40 L1133.30 810.40 M1130.30 816.40 L1133.30 813.40" fill="none" stroke="#8a8a8a" stroke-width="0.8"/>
<text x="806.30" y="650.75" font-size="16.6" fill="#212529" stroke="#212529" xml:space="preserve" letter-spacing="0.14" textLength="305.21" lengthAdjust="spacing">Based on the current hypothetical causal</text>
<text x="806.30" y="676.58" font-size="16.6" fill="#212529" stroke="#212529" xml:space="preserve" letter-spacing="0.14" textLength="307.37" lengthAdjust="spacing">relation, show the strength of confounder</text>
<text x="806.30" y="702.41" font-size="16.6" fill="#212529" stroke="#212529" xml:space="preserve" letter-spacing="0.14" textLength="277.19" lengthAdjust="spacing">Aerodynamics, and explain why it is a</text>
<text x="806.30" y="728.24" font-size="16.6" fill="#212529" stroke="#212529" xml:space="preserve" letter-spacing="0.14" textLength="90.98" lengthAdjust="spacing">confounder.</text>
<text x="787.80" y="835.60" font-size="17.2" fill="#212529" stroke="#212529" textLength="346.50" lengthAdjust="spacingAndGlyphs">Causal Environment Confounder Justification</text>
<rect x="793.40" y="847.70" width="342.40" height="270.60" fill="#fff" stroke="#dee2e6" stroke-width="1" rx="6"/>
<path d="M1127.30 1115.80 L1133.30 1109.80 M1130.30 1115.80 L1133.30 1112.80" fill="none" stroke="#8a8a8a" stroke-width="0.8"/>
<text x="806.30" y="873.60" font-size="16.6" fill="#212529" stroke="#212529" xml:space="preserve" letter-spacing="0.14" textLength="250.34" lengthAdjust="spacing">Confounder name: Aerodynamics</text>
<text x="806.30" y="899.25" font-size="16.6" fill="#212529" stroke="#212529" xml:space="preserve" letter-spacing="0.14" textLength="233.84" lengthAdjust="spacing"> Confounding strength:Medium</text>
<text x="806.30" y="924.90" font-size="16.6" fill="#212529" stroke="#212529" xml:space="preserve" letter-spacing="0.14" textLength="241.12" lengthAdjust="spacing"> Confounding justification:Better</text>
<text x="806.30" y="950.55" font-size="16.6" fill="#212529" stroke="#212529" xml:space="preserve" letter-spacing="0.14" textLength="309.06" lengthAdjust="spacing">aerodynamic design can decrease weight</text>
<text x="806.30" y="976.20" font-size="16.6" fill="#212529" stroke="#212529" xml:space="preserve" letter-spacing="0.14" textLength="264.08" lengthAdjust="spacing">by allowing for lighter materials and</text>
<text x="806.30" y="1001.85" font-size="16.6" fill="#212529" stroke="#212529" xml:space="preserve" letter-spacing="0.14" textLength="262.03" lengthAdjust="spacing">structure while also improving mpg</text>
<text x="806.30" y="1027.50" font-size="16.6" fill="#212529" stroke="#212529" xml:space="preserve" letter-spacing="0.14" textLength="234.11" lengthAdjust="spacing">through reduced air resistance.</text>
<text x="1249.90" y="608.50" font-size="17.2" fill="#212529" stroke="#212529" text-anchor="middle">Mediator Prompt</text>
<rect x="1345.70" y="596.30" width="27.10" height="13.20" fill="#2f6ef5" rx="6.600000000000023"/>
<circle cx="1366.20" cy="602.90" r="4.30" fill="#fff"/>
<text x="1380.40" y="608.00" font-size="13.8" fill="#212529" stroke="#212529">Template</text>
<rect x="1451.90" y="593.20" width="57.80" height="30.40" fill="#fff" stroke="#5c5f63" stroke-width="1.1" rx="5"/>
<text x="1480.80" y="613.40" font-size="13.6" fill="#212529" stroke="#212529" text-anchor="middle">Query</text>
<rect x="1164.70" y="626.30" width="342.40" height="192.60" fill="#fff" stroke="#dee2e6" stroke-width="1" rx="6"/>
<path d="M1498.60 816.40 L1504.60 810.40 M1501.60 816.40 L1504.60 813.40" fill="none" stroke="#8a8a8a" stroke-width="0.8"/>
<text x="1177.60" y="650.75" font-size="16.6" fill="#212529" stroke="#212529" xml:space="preserve" letter-spacing="0.14" textLength="305.41" lengthAdjust="spacing">Based on the current hypothetical causal</text>
<text x="1177.60" y="676.58" font-size="16.6" fill="#212529" stroke="#212529" xml:space="preserve" letter-spacing="0.14" textLength="288.72" lengthAdjust="spacing">relation, show the strength of mediator</text>
<text x="1177.60" y="702.41" font-size="16.6" fill="#212529" stroke="#212529" xml:space="preserve" letter-spacing="0.14" textLength="302.42" lengthAdjust="spacing">Rolling Resistance, the sign of mediating</text>
<text x="1177.60" y="728.24" font-size="16.6" fill="#212529" stroke="#212529" xml:space="preserve" letter-spacing="0.14" textLength="288.85" lengthAdjust="spacing">effect, and explain why it is a mediator.</text>
<text x="1159.10" y="835.60" font-size="17.2" fill="#212529" stroke="#212529" textLength="323.70" lengthAdjust="spacingAndGlyphs">Causal Environment Mediator Justification</text>
<rect x="1164.70" y="847.70" width="342.40" height="270.60" fill="#fff" stroke="#dee2e6" stroke-width="1" rx="6"/>
<path d="M1498.60 1115.80 L1504.60 1109.80 M1501.60 1115.80 L1504.60 1112.80" fill="none" stroke="#8a8a8a" stroke-width="0.8"/>
<text x="1177.60" y="873.60" font-size="16.6" fill="#212529" stroke="#212529" xml:space="preserve" letter-spacing="0.14" textLength="257.55" lengthAdjust="spacing">Mediator name: Rolling Resistance</text>
<text x="1177.60" y="899.25" font-size="16.6" fill="#212529" stroke="#212529" xml:space="preserve" letter-spacing="0.14" textLength="211.41" lengthAdjust="spacing"> Mediating strength:medium</text>
<text x="1177.60" y="924.90" font-size="16.6" fill="#212529" stroke="#212529" xml:space="preserve" letter-spacing="0.14" textLength="159.43" lengthAdjust="spacing"> Mediating sign:lower</text>
<text x="1177.60" y="950.55" font-size="16.6" fill="#212529" stroke="#212529" xml:space="preserve" letter-spacing="0.14" textLength="293.53" lengthAdjust="spacing"> Mediating justification:A lighter car has</text>
<text x="1177.60" y="976.20" font-size="16.6" fill="#212529" stroke="#212529" xml:space="preserve" letter-spacing="0.14" textLength="279.58" lengthAdjust="spacing">less mass pressing down on the tires,</text>
<text x="1177.60" y="1001.85" font-size="16.6" fill="#212529" stroke="#212529" xml:space="preserve" letter-spacing="0.14" textLength="292.28" lengthAdjust="spacing">which reduces rolling resistance. Lower</text>
<text x="1177.60" y="1027.50" font-size="16.6" fill="#212529" stroke="#212529" xml:space="preserve" letter-spacing="0.14" textLength="287.02" lengthAdjust="spacing">rolling resistance means the car needs</text>
<text x="1177.60" y="1053.15" font-size="16.6" fill="#212529" stroke="#212529" xml:space="preserve" letter-spacing="0.14" textLength="305.22" lengthAdjust="spacing">less energy to maintain speed, improving</text>
<text x="1177.60" y="1078.80" font-size="16.6" fill="#212529" stroke="#212529" xml:space="preserve" letter-spacing="0.14" textLength="38.85" lengthAdjust="spacing">mpg.</text>
<rect x="254.00" y="1012.00" width="112.00" height="110.00" fill="#fff"/>
<circle cx="310.00" cy="1067.00" r="52.20" fill="#fff" stroke="#000" stroke-width="2.7"/>
<text x="0" y="0" font-size="65.26" fill="#000" stroke="#000" transform="translate(286.19 1090.80) scale(0.991 1)">D</text>
<text x="1877.90" y="630.00" font-size="19.5" fill="#111" stroke="#111" text-anchor="middle" textLength="305.00" lengthAdjust="spacingAndGlyphs">Causal Relation Environment Chart</text>
<path d="M1649.6 921 V709.7 H2106.4 V921" fill="none" stroke="#222" stroke-width="1.4"/>
<polygon points="1649.60,932.60 1643.40,920.30 1655.80,920.30" fill="#000"/>
<polygon points="2106.40,932.60 2100.20,920.30 2112.60,920.30" fill="#000"/>
<line x1="1718.60" y1="958.60" x2="1790.00" y2="958.60" stroke="#222" stroke-width="1.4" />
<polygon points="1800.80,958.60 1789.00,964.60 1789.00,952.60" fill="#000"/>
<line x1="1954.70" y1="958.60" x2="2052.00" y2="958.60" stroke="#222" stroke-width="1.4" />
<polygon points="2062.80,958.60 2051.00,964.60 2051.00,952.60" fill="#000"/>
<rect x="1801.00" y="676.00" width="154.10" height="33.60" fill="#ef7672" stroke="#1e1e1e" stroke-width="1.3" rx="3"/>
<text x="1878.05" y="697.50" font-size="12.8" fill="#111" stroke="#111" text-anchor="middle">Engine Efficiency</text>
<rect x="1801.00" y="709.60" width="154.10" height="33.60" fill="#f8d7d7" stroke="#1e1e1e" stroke-width="1.3" rx="3"/>
<text x="1878.05" y="731.10" font-size="12.8" fill="#111" stroke="#111" text-anchor="middle">Vehicle Maintenance</text>
<rect x="1801.00" y="743.20" width="154.10" height="34.60" fill="#fcecec" stroke="#1e1e1e" stroke-width="1.3" rx="3"/>
<text x="1878.05" y="756.60" font-size="12.8" fill="#111" stroke="#111" text-anchor="middle">Tire Type and</text>
<text x="1878.05" y="769.00" font-size="12.8" fill="#111" stroke="#111" text-anchor="middle">Condition</text>
<rect x="1801.00" y="873.60" width="154.10" height="33.00" fill="#f1fcf1" stroke="#1e1e1e" stroke-width="1.3" rx="3"/>
<text x="1878.05" y="895.10" font-size="12.8" fill="#111" stroke="#111" text-anchor="middle">Aerodynamic Drag</text>
<line x1="1947.00" y1="880.10" x2="1947.00" y2="896.60" stroke="#111" stroke-width="1.1" />
<polygon points="1947.00,901.30 1943.80,894.10 1950.20,894.10" fill="#000"/>
<rect x="1801.00" y="943.30" width="154.10" height="33.00" fill="#6abf69" stroke="#1e1e1e" stroke-width="1.3" rx="3"/>
<text x="1878.05" y="955.30" font-size="12.8" fill="#111" stroke="#111" text-anchor="middle">Acceleration</text>
<text x="1878.05" y="967.60" font-size="12.8" fill="#111" stroke="#111" text-anchor="middle">Efficiency</text>
<line x1="1947.00" y1="955.30" x2="1947.00" y2="970.80" stroke="#111" stroke-width="1.1" />
<polygon points="1947.00,949.10 1950.20,956.30 1943.80,956.30" fill="#000"/>
<rect x="1801.00" y="976.50" width="154.10" height="33.50" fill="#f1fcf1" stroke="#1e1e1e" stroke-width="1.3" rx="3"/>
<text x="1878.05" y="988.75" font-size="12.8" fill="#111" stroke="#111" text-anchor="middle">Transmission</text>
<text x="1878.05" y="1001.05" font-size="12.8" fill="#111" stroke="#111" text-anchor="middle">Efficiency</text>
<line x1="1947.00" y1="988.50" x2="1947.00" y2="1004.50" stroke="#111" stroke-width="1.1" />
<polygon points="1947.00,982.30 1950.20,989.50 1943.80,989.50" fill="#000"/>
<rect x="1801.00" y="1010.30" width="154.10" height="34.00" fill="#c9f2c9" stroke="#1e1e1e" stroke-width="1.3" rx="3"/>
<text x="1878.05" y="1032.30" font-size="12.8" fill="#111" stroke="#111" text-anchor="middle">Vehicle Load</text>
<line x1="1947.00" y1="1016.80" x2="1947.00" y2="1034.30" stroke="#111" stroke-width="1.1" />
<polygon points="1947.00,1039.00 1943.80,1031.80 1950.20,1031.80" fill="#000"/>
<rect x="1801.00" y="641.00" width="154.10" height="33.20" fill="#f8d7d7" stroke="#000" stroke-width="3" rx="3"/>
<text x="1878.05" y="662.30" font-size="12.8" fill="#111" stroke="#111" text-anchor="middle">Aerodynamics</text>
<rect x="1801.00" y="909.10" width="154.10" height="30.60" fill="#c9f2c9" stroke="#000" stroke-width="3" rx="3"/>
<text x="1878.05" y="929.40" font-size="12.8" fill="#111" stroke="#111" text-anchor="middle">Rolling Resistance</text>
<line x1="1947.00" y1="915.60" x2="1947.00" y2="929.70" stroke="#111" stroke-width="1.1" />
<polygon points="1947.00,934.40 1943.80,927.20 1950.20,927.20" fill="#000"/>
<ellipse cx="1649.60" cy="958.60" rx="68.00" ry="25.00" fill="#97b3eb" stroke="#000" stroke-width="2.2" />
<text x="1649.60" y="959.60" font-size="12.8" fill="#111" stroke="#111" text-anchor="middle">car_weight</text>
<ellipse cx="2106.40" cy="958.60" rx="42.00" ry="25.00" fill="#e795b0" stroke="#000" stroke-width="2.2" />
<text x="2106.40" y="959.60" font-size="12.8" fill="#111" stroke="#111" text-anchor="middle">mpg</text>
<rect x="2123.60" y="609.70" width="16.60" height="16.60" fill="#ef7672" stroke="#888" stroke-width="1.2"/>
<text x="2143.50" y="621.60" font-size="13.8" fill="#111" stroke="#111">Strong</text>
<rect x="2123.60" y="631.10" width="16.60" height="16.60" fill="#f8d7d7" stroke="#888" stroke-width="1.2"/>
<text x="2143.50" y="643.00" font-size="13.8" fill="#111" stroke="#111">Medium</text>
<rect x="2123.60" y="652.50" width="16.60" height="16.60" fill="#fcefef" stroke="#888" stroke-width="1.2"/>
<text x="2143.50" y="664.40" font-size="13.8" fill="#111" stroke="#111">Weak</text>
<rect x="2123.60" y="695.40" width="16.60" height="16.60" fill="#6abf69" stroke="#888" stroke-width="1.2"/>
<text x="2143.50" y="707.30" font-size="13.8" fill="#111" stroke="#111">Strong</text>
<rect x="2123.60" y="716.90" width="16.60" height="16.60" fill="#c9f2c9" stroke="#888" stroke-width="1.2"/>
<text x="2143.50" y="728.80" font-size="13.8" fill="#111" stroke="#111">Medium</text>
<rect x="2123.60" y="738.10" width="16.60" height="16.60" fill="#eefbee" stroke="#888" stroke-width="1.2"/>
<text x="2143.50" y="750.00" font-size="13.8" fill="#111" stroke="#111">Weak</text>
<circle cx="1622.00" cy="1067.00" r="52.20" fill="#fff" stroke="#000" stroke-width="2.7"/>
<text x="0" y="0" font-size="65.55" fill="#000" stroke="#000" transform="translate(1601.83 1092.00) scale(0.906 1)">E</text>
</svg>
</body></html>
